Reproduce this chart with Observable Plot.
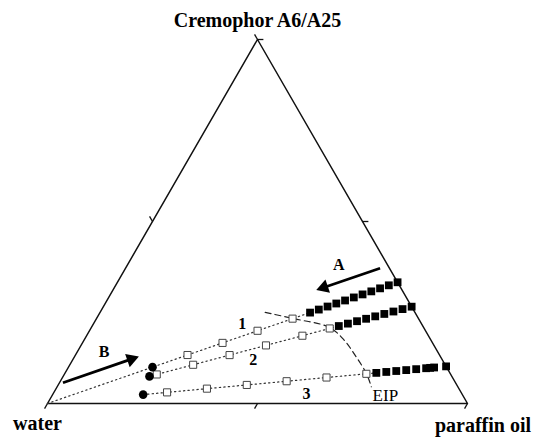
<!DOCTYPE html>
<html><head><meta charset="utf-8">
<script src="https://cdn.jsdelivr.net/npm/d3@7"></script>
<script src="https://cdn.jsdelivr.net/npm/@observablehq/plot@0.6"></script>
<style>body{margin:0;background:#fff}</style>
</head><body><div id="chart"></div>
<script>
// Vertex labels
const vertexLabels = ["water", "Cremophor A6/A25", "paraffin oil"];
// Dilution lines: surfactant share of the oil+surfactant mixture, water % of each sample
const lineNames = ["1", "2", "3"];
const surfShare = [0.333, 0.266, 0.102];
const circleWater = [70, 72, 76];
const openWater = [
  [60, 50, 40, 30],
  [70, 60, 50, 40, 30, 22.5],
  [70, 60, 50, 40, 30, 20]
];
const filledWater = [
  [25, 22.5, 20, 17.5, 15, 12.5, 10, 7.5, 5, 2.5, 0],
  [20, 17.5, 15, 12.5, 10, 7.5, 5, 2.5, 0],
  [17.5, 15, 12.5, 10, 7.5, 5, 4, 3, 0]
];
const dottedStartWater = [100, 72, 76];
// EIP curve (oil %, surfactant %)
const eipOil = [39.3, 46.65, 56.7, 61.9, 67.06, 71.8, 74.8];
const eipSurf = [25.05, 23.37, 20.9, 17.43, 12.84, 8.25, 4.59];
// Arrows A and B (oil %, surfactant %)
const arrowNames = ["A", "B"];
const arrowFromOil = [60.6, 0.84], arrowFromSurf = [37.17, 5.69];
const arrowToOil = [48.5, 15.22], arrowToSurf = [31.21, 12.84];
const arrowLabelOil = [50.3, 6.4], arrowLabelSurf = [38.1, 14.2];
// Line number labels
const lineLabelOil = [35.45, 42.95, 60.3], lineLabelSurf = [21.86, 12.1, 2.75];
const eipLabel = "EIP", eipLabelOil = 79.3, eipLabelSurf = 2.28;
// Ticks
const bottomTicks = [0, 50, 100], sideTicks = [50, 100];

const H = Math.sqrt(3) / 2;
const tern = (oil, surf) => ({x: (oil + surf / 2) / 100, y: surf / 100 * H});
const comp = (share, w) => tern((100 - w) * (1 - share), (100 - w) * share);

const tri = [tern(0, 0), tern(100, 0), tern(0, 100), tern(0, 0)];
const filled = [], open = [], circles = [], dotted = [];
lineNames.forEach((n, i) => {
  filledWater[i].forEach(w => filled.push(comp(surfShare[i], w)));
  openWater[i].forEach(w => open.push(comp(surfShare[i], w)));
  circles.push(comp(surfShare[i], circleWater[i]));
  dotted.push({...comp(surfShare[i], dottedStartWater[i]), line: n});
  dotted.push({...comp(surfShare[i], filledWater[i][0]), line: n});
});
const eip = eipOil.map((o, i) => tern(o, eipSurf[i]));
// arrow shafts + filled triangular heads
const headLen = 0.029; // in x-units (same pixel scale on both axes)
const shafts = [], heads = [];
arrowNames.forEach((n, i) => {
  const a = tern(arrowFromOil[i], arrowFromSurf[i]), b = tern(arrowToOil[i], arrowToSurf[i]);
  const dx = b.x - a.x, dy = b.y - a.y, len = Math.hypot(dx, dy);
  const ux = dx / len, uy = dy / len;
  shafts.push({x1: a.x, y1: a.y, x2: b.x - ux * headLen * 0.8, y2: b.y - uy * headLen * 0.8});
  heads.push({x: b.x - ux * headLen * 0.62, y: b.y - uy * headLen * 0.62, angle: Math.atan2(dx, dy) * 180 / Math.PI});
});
const arrowLabels = arrowNames.map((n, i) => ({...tern(arrowLabelOil[i], arrowLabelSurf[i]), t: n}));
const lineLabels = lineNames.map((n, i) => ({...tern(lineLabelOil[i], lineLabelSurf[i]), t: n}));
const L = 0.014;
const ticks = [];
bottomTicks.forEach(v => { const p = tern(v, 0); ticks.push({x1: p.x, y1: p.y, x2: p.x - L * 0.5, y2: p.y - L * H}); });
sideTicks.forEach(v => { const p = tern(100 - v, v); ticks.push({x1: p.x, y1: p.y, x2: p.x + L, y2: p.y}); });
sideTicks.forEach(v => { const p = tern(0, v); ticks.push({x1: p.x, y1: p.y, x2: p.x - L * 0.5, y2: p.y + L * H}); });
const vW = tern(0, 0), vS = tern(0, 100), vO = tern(100, 0);
const serif = "Liberation Serif, Times New Roman, serif";
const eipPos = tern(eipLabelOil, eipLabelSurf);

const chart = Plot.plot({
  width: 534, height: 437,
  marginLeft: 47, marginRight: 67, marginTop: 39, marginBottom: 34,
  x: {domain: [0, 1], axis: null},
  y: {domain: [0, H], axis: null},
  style: {fontFamily: serif, background: "#fff"},
  marks: [
    Plot.line(tri, {x: "x", y: "y", stroke: "#111", strokeWidth: 1.5}),
    Plot.link(ticks, {x1: "x1", y1: "y1", x2: "x2", y2: "y2", stroke: "#111", strokeWidth: 1.3}),
    Plot.line(dotted, {x: "x", y: "y", z: "line", stroke: "#333", strokeWidth: 1.2, strokeDasharray: "1.3,3.2"}),
    Plot.line(eip, {x: "x", y: "y", curve: "catmull-rom", stroke: "#222", strokeWidth: 1.2, strokeDasharray: "6,4"}),
    Plot.dot(open, {x: "x", y: "y", symbol: "square", r: 4, fill: "#fff", stroke: "#444", strokeWidth: 1}),
    Plot.dot(filled, {x: "x", y: "y", symbol: "square", r: 4.4, fill: "#000", stroke: "none"}),
    Plot.dot(circles, {x: "x", y: "y", r: 4.3, fill: "#000", stroke: "none"}),
    Plot.link(shafts, {x1: "x1", y1: "y1", x2: "x2", y2: "y2", stroke: "#000", strokeWidth: 2.8}),
    Plot.dot(heads, {x: "x", y: "y", symbol: "triangle", r: 5.2, rotate: "angle", fill: "#000", stroke: "none"}),
    Plot.text(arrowLabels, {x: "x", y: "y", text: "t", fontSize: 16, fontWeight: "bold", fill: "#000"}),
    Plot.text(lineLabels, {x: "x", y: "y", text: "t", fontSize: 16, fontWeight: "bold", fill: "#000"}),
    Plot.text([eipLabel], {x: eipPos.x, y: eipPos.y, text: d => d, fontSize: 17, fill: "#000"}),
    Plot.text([vertexLabels[1]], {x: vS.x, y: vS.y, dy: -19, text: d => d, fontSize: 20, fontWeight: "bold", fill: "#000"}),
    Plot.text([vertexLabels[0]], {x: vW.x, y: vW.y, dx: -10, dy: 20, text: d => d, fontSize: 20, fontWeight: "bold", fill: "#000"}),
    Plot.text([vertexLabels[2]], {x: vO.x, y: vO.y, dx: 15.5, dy: 22, text: d => d, fontSize: 20, fontWeight: "bold", fill: "#000"})
  ]
});
document.getElementById("chart").appendChild(chart);
</script></body></html>
